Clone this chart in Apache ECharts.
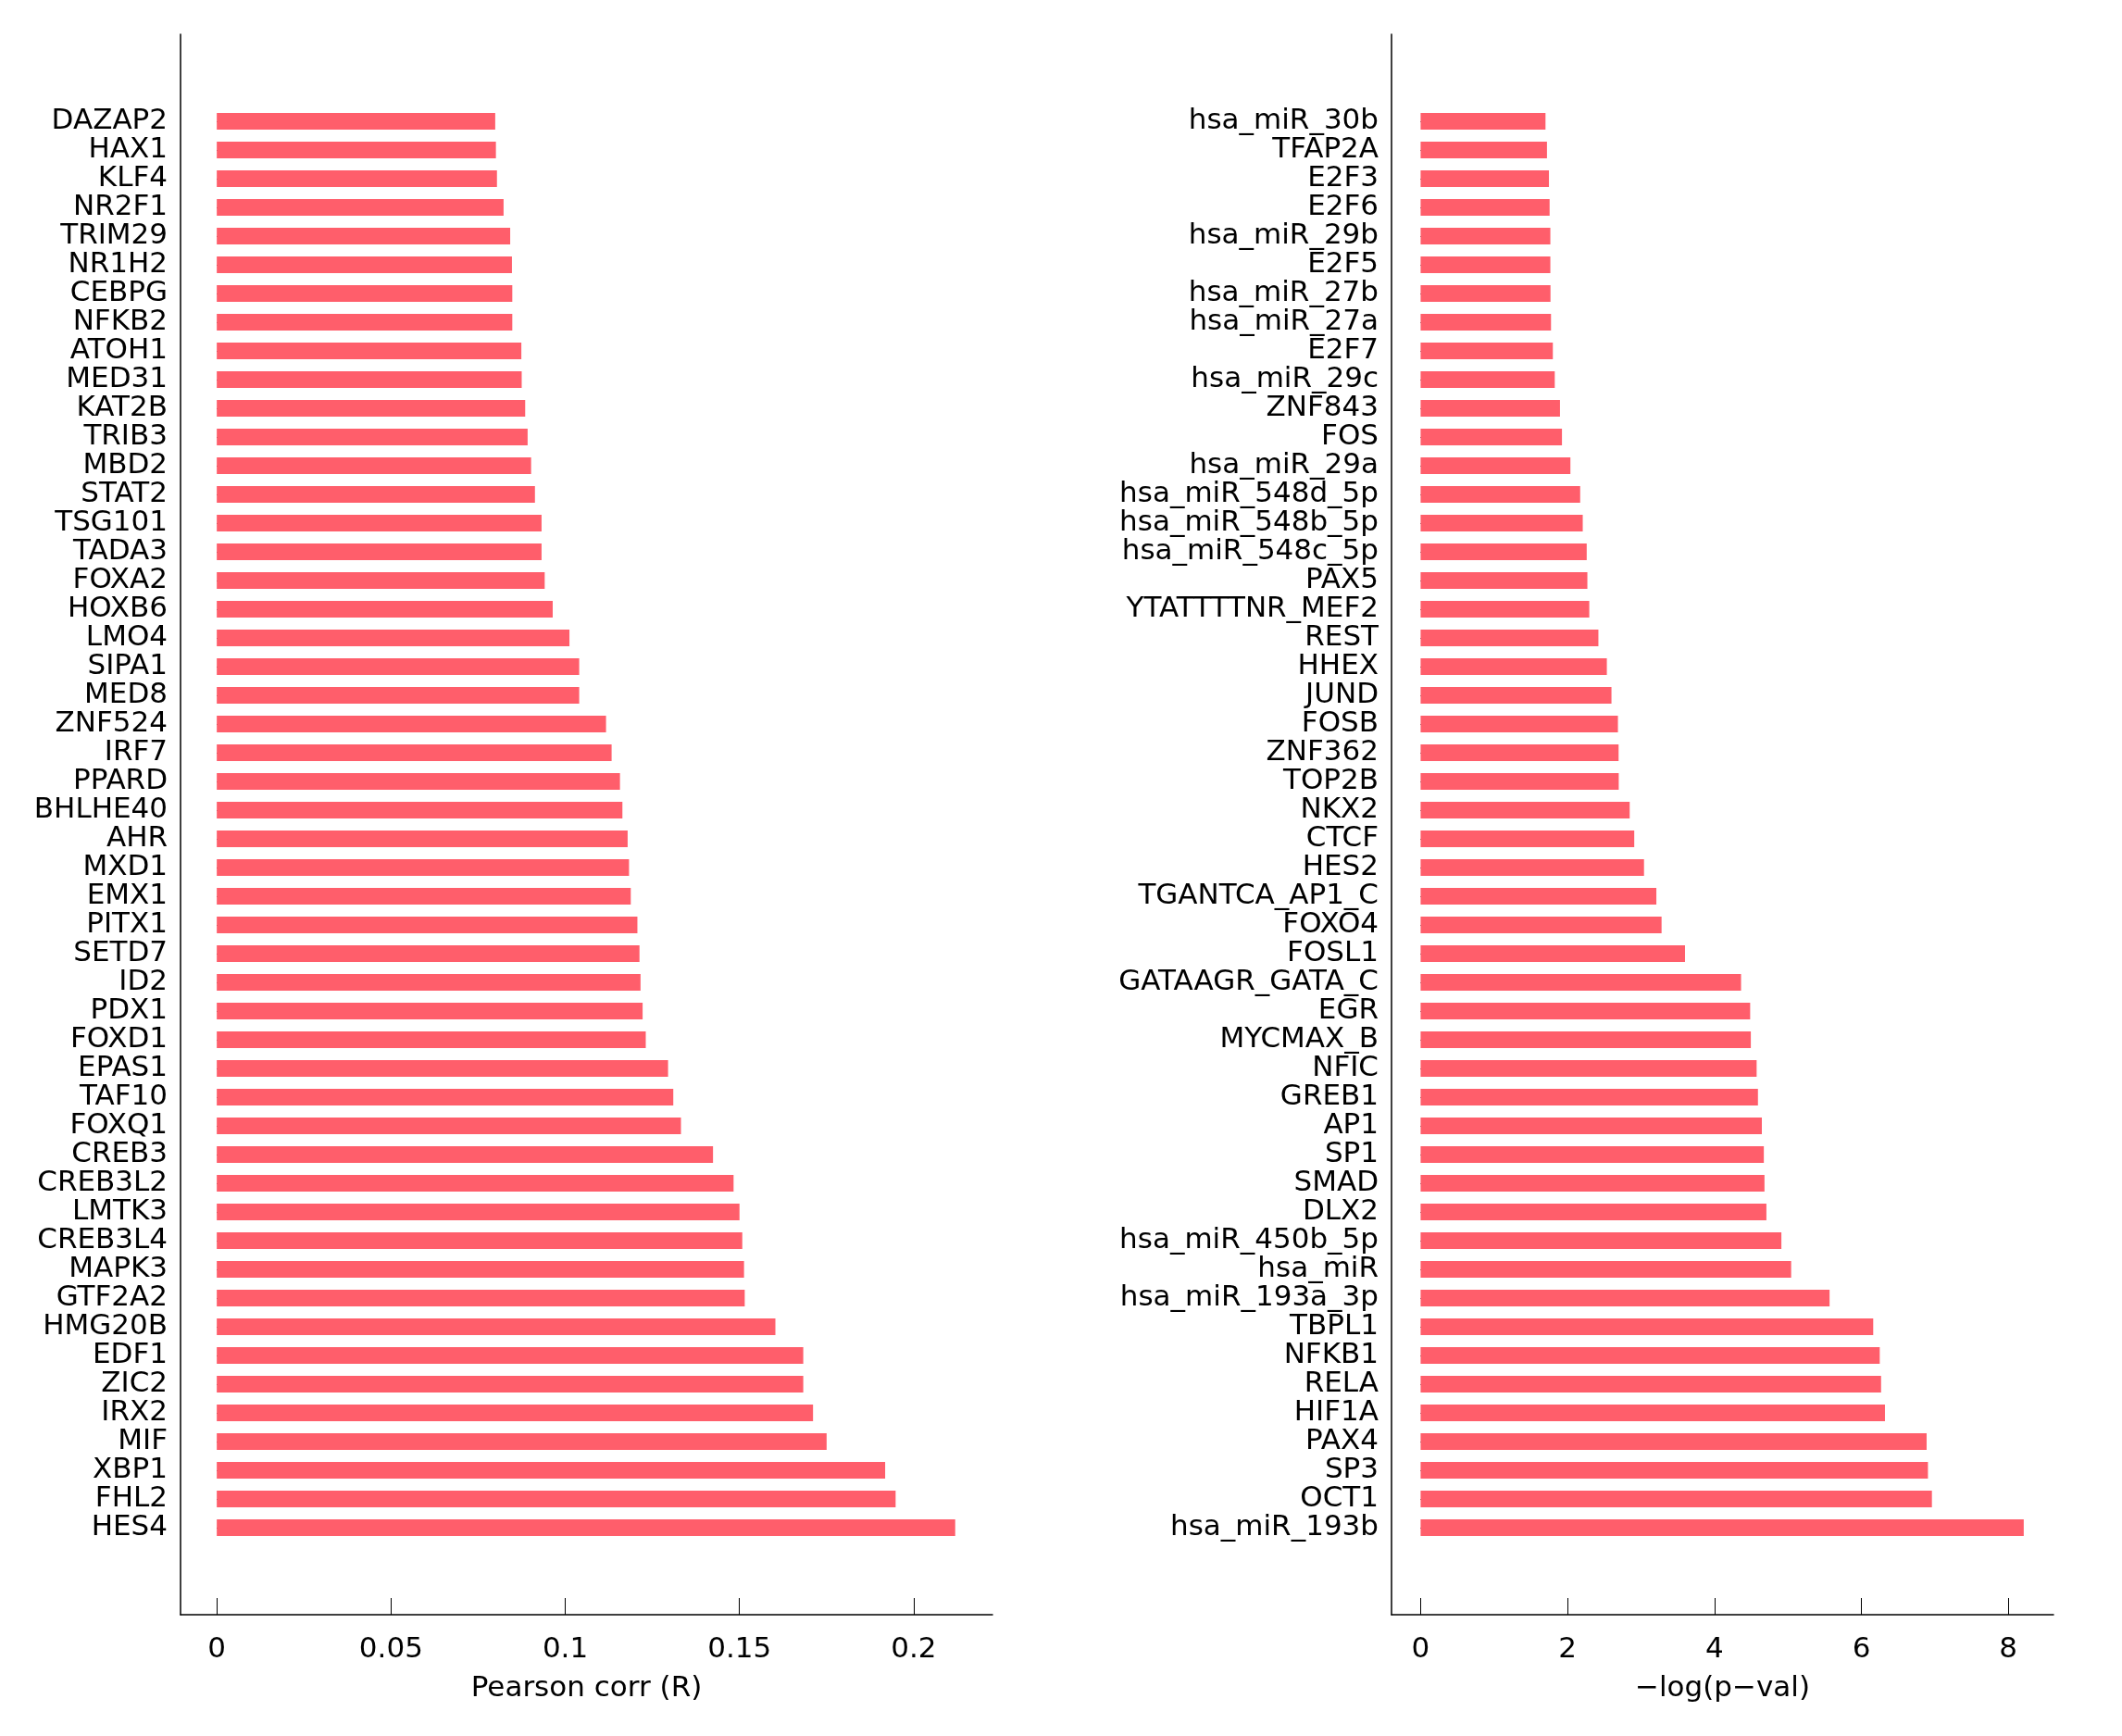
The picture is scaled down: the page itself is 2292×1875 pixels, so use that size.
<!DOCTYPE html>
<html>
<head>
<meta charset="utf-8">
<script src="https://cdn.jsdelivr.net/npm/echarts@6/dist/echarts.min.js"></script>
<style>
html,body{margin:0;padding:0;background:#fff;}
#c{width:2292px;height:1875px;}
</style>
</head>
<body>
<div id="c"></div>
<script>
const genesLeft = ['DAZAP2','HAX1','KLF4','NR2F1','TRIM29','NR1H2','CEBPG','NFKB2','ATOH1','MED31','KAT2B','TRIB3','MBD2','STAT2','TSG101','TADA3','FOXA2','HOXB6','LMO4','SIPA1','MED8','ZNF524','IRF7','PPARD','BHLHE40','AHR','MXD1','EMX1','PITX1','SETD7','ID2','PDX1','FOXD1','EPAS1','TAF10','FOXQ1','CREB3','CREB3L2','LMTK3','CREB3L4','MAPK3','GTF2A2','HMG20B','EDF1','ZIC2','IRX2','MIF','XBP1','FHL2','HES4'];
const corrValues = [0.0799,0.0801,0.0804,0.0823,0.0842,0.0847,0.0848,0.0848,0.0874,0.0875,0.0885,0.0892,0.0902,0.0913,0.0932,0.0932,0.0941,0.0964,0.1012,0.1040,0.1040,0.1117,0.1133,0.1157,0.1164,0.1179,0.1183,0.1188,0.1207,0.1213,0.1216,0.1222,0.1231,0.1295,0.1310,0.1332,0.1424,0.1483,0.1500,0.1508,0.1513,0.1515,0.1603,0.1683,0.1683,0.1711,0.1750,0.1918,0.1948,0.2119];
const genesRight = ['hsa_miR_30b','TFAP2A','E2F3','E2F6','hsa_miR_29b','E2F5','hsa_miR_27b','hsa_miR_27a','E2F7','hsa_miR_29c','ZNF843','FOS','hsa_miR_29a','hsa_miR_548d_5p','hsa_miR_548b_5p','hsa_miR_548c_5p','PAX5','YTATTTTNR_MEF2','REST','HHEX','JUND','FOSB','ZNF362','TOP2B','NKX2','CTCF','HES2','TGANTCA_AP1_C','FOXO4','FOSL1','GATAAGR_GATA_C','EGR','MYCMAX_B','NFIC','GREB1','AP1','SP1','SMAD','DLX2','hsa_miR_450b_5p','hsa_miR','hsa_miR_193a_3p','TBPL1','NFKB1','RELA','HIF1A','PAX4','SP3','OCT1','hsa_miR_193b'];
const pvalValues = [1.70,1.72,1.747,1.756,1.766,1.766,1.768,1.775,1.80,1.826,1.897,1.924,2.039,2.172,2.207,2.261,2.270,2.296,2.420,2.535,2.598,2.686,2.695,2.697,2.846,2.908,3.041,3.209,3.280,3.599,4.362,4.486,4.495,4.574,4.592,4.645,4.672,4.681,4.707,4.911,5.044,5.567,6.161,6.250,6.268,6.321,6.888,6.906,6.960,8.210];
const ticksLeft = [0,0.05,0.1,0.15,0.2];
const ticksRight = [0,2,4,6,8];
const rangeLeft = [-0.0104, 0.2226];
const rangeRight = [-0.396, 8.615];

const FONT = 'DejaVu Sans';
const BAR = '#ff5e6b';
const chart = echarts.init(document.getElementById('c'), null, {renderer:'canvas'});

const panels = [
  {left:195, width:877, cats:genesLeft, vals:corrValues, ticks:ticksLeft, range:rangeLeft, name:'Pearson corr (R)'},
  {left:1503, width:715, cats:genesRight, vals:pvalValues, ticks:ticksRight, range:rangeRight, name:'\u2212log(p\u2212val)'}
];
const grid=[], xAxis=[], yAxis=[], series=[];
panels.forEach((p,i)=>{
  grid.push({left:p.left, width:p.width, top:115.5, height:1550});
  grid.push({left:p.left, width:p.width, top:37, height:1707});
  const gb = i*2, gf = i*2+1;
  xAxis.push({type:'value', gridIndex:gb, min:p.range[0], max:p.range[1], show:false});
  xAxis.push({type:'value', gridIndex:gf, min:p.range[0], max:p.range[1],
    axisLine:{show:true, onZero:false, lineStyle:{color:'#000', width:1.5}},
    axisTick:{show:true, inside:true, length:18, customValues:p.ticks, lineStyle:{color:'#000', width:1}},
    axisLabel:{show:true, customValues:p.ticks, margin:22, color:'#000', fontFamily:FONT, fontSize:31},
    splitLine:{show:false},
    name:p.name, nameLocation:'middle', nameGap:64,
    nameTextStyle:{color:'#000', fontFamily:FONT, fontSize:31}
  });
  yAxis.push({type:'category', gridIndex:gb, data:p.cats, inverse:true,
    axisLine:{show:false},
    axisTick:{show:true, inside:true, length:18, alignWithLabel:true, lineStyle:{color:'#000', width:1}},
    axisLabel:{color:'#000', fontFamily:FONT, fontSize:31, margin:14, interval:0, padding:[5,0,0,0]},
    splitLine:{show:false}
  });
  yAxis.push({type:'value', gridIndex:gf, min:0, max:1,
    axisLine:{show:true, onZero:false, lineStyle:{color:'#000', width:1.5}},
    axisTick:{show:false}, axisLabel:{show:false}, splitLine:{show:false}
  });
  series.push({type:'bar', xAxisIndex:gb, yAxisIndex:gb, data:p.vals, barWidth:18,
    itemStyle:{color:BAR}, silent:true});
});

chart.setOption({animation:false, backgroundColor:'#fff', grid, xAxis, yAxis, series});
</script>
</body>
</html>
